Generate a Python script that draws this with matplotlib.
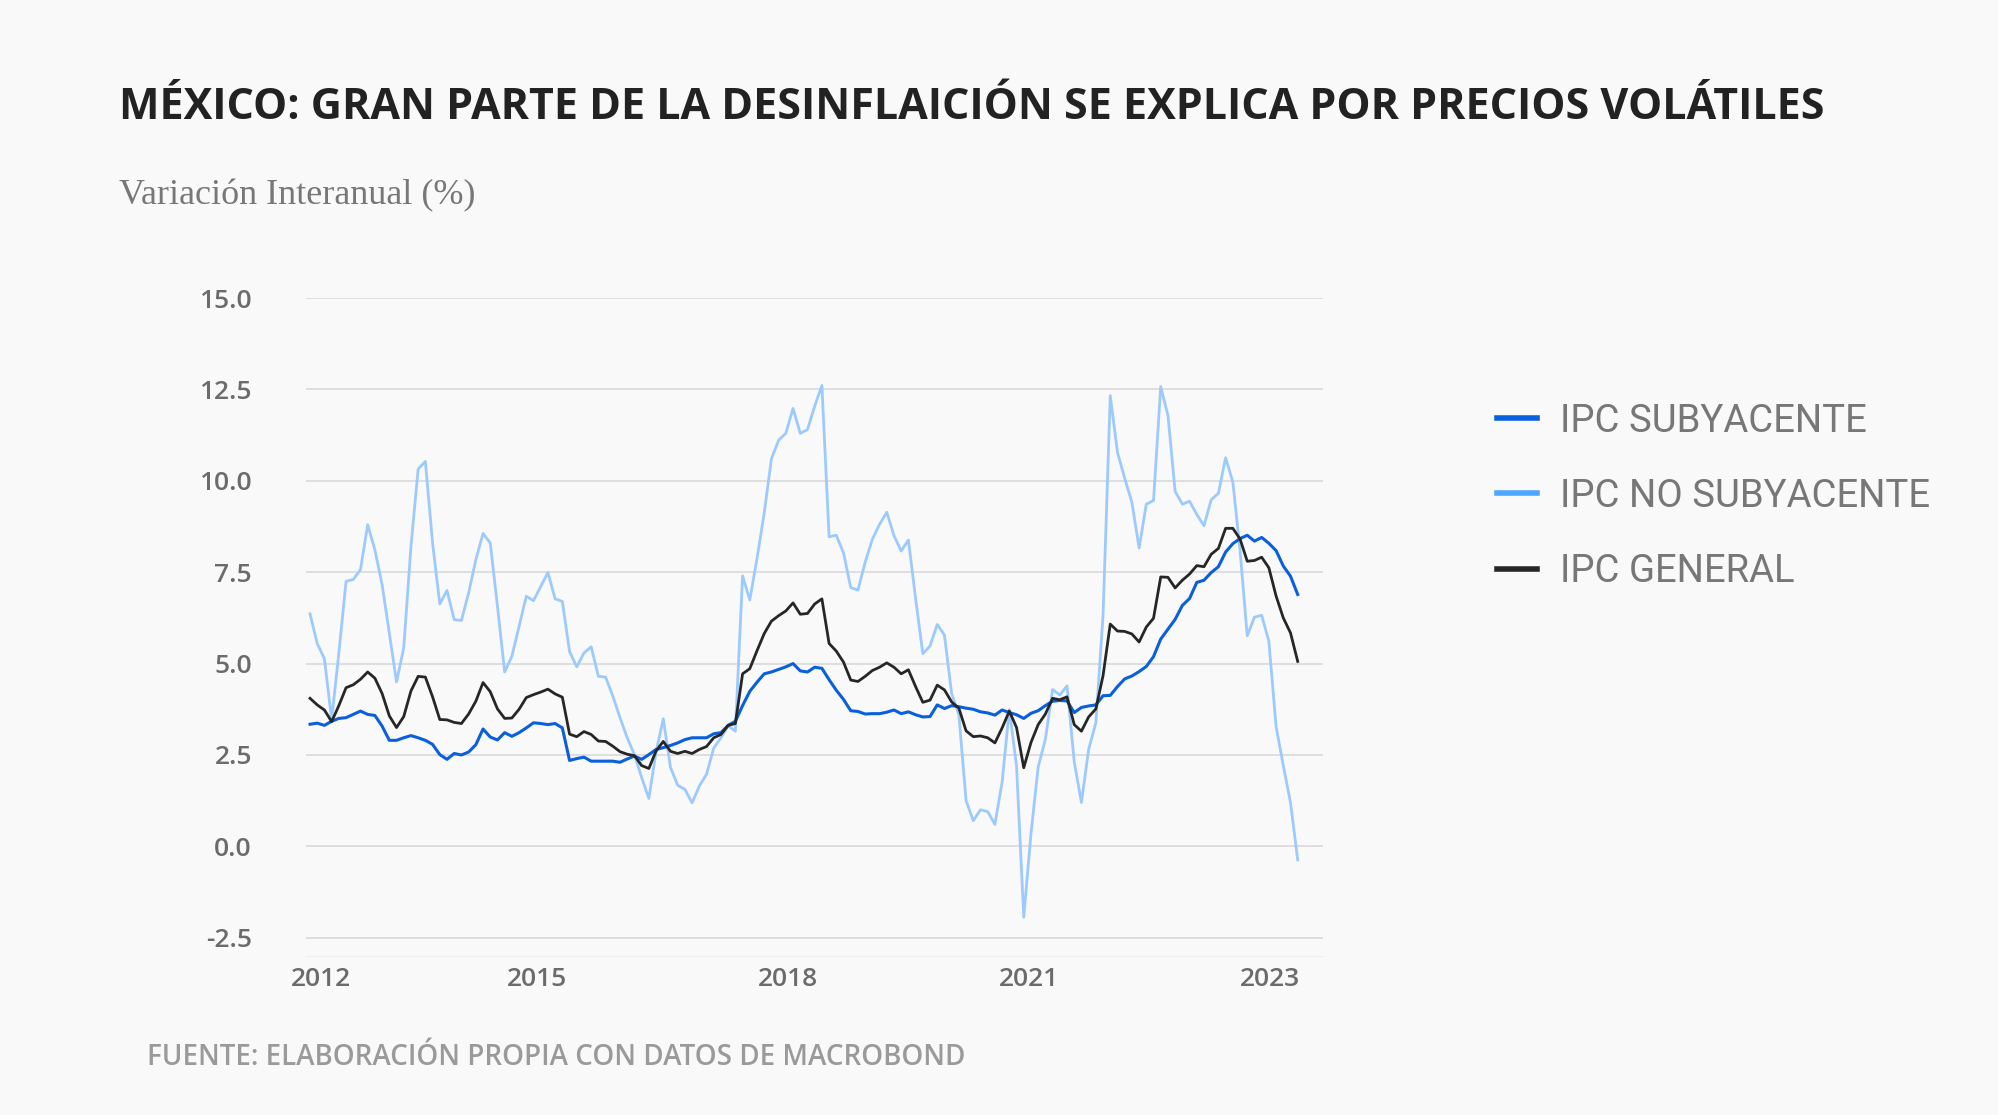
import numpy as np
import matplotlib
matplotlib.use("Agg")
import matplotlib.pyplot as plt
from matplotlib.lines import Line2D

# --- Datos mensuales, ene-2012 a jun-2023 (variación interanual, %) ---
ipc_general = [
    4.05, 3.87, 3.73, 3.41, 3.85, 4.34, 4.42, 4.57, 4.77, 4.60, 4.18, 3.57,  # 2012
    3.25, 3.55, 4.25, 4.65, 4.63, 4.09, 3.47, 3.46, 3.39, 3.36, 3.62, 3.97,  # 2013
    4.48, 4.23, 3.76, 3.50, 3.51, 3.75, 4.07, 4.15, 4.22, 4.30, 4.17, 4.08,  # 2014
    3.07, 3.00, 3.14, 3.06, 2.88, 2.87, 2.74, 2.59, 2.52, 2.48, 2.21, 2.13,  # 2015
    2.61, 2.87, 2.60, 2.54, 2.60, 2.54, 2.65, 2.73, 2.97, 3.06, 3.31, 3.36,  # 2016
    4.72, 4.86, 5.35, 5.82, 6.16, 6.31, 6.44, 6.66, 6.35, 6.37, 6.63, 6.77,  # 2017
    5.55, 5.34, 5.04, 4.55, 4.51, 4.65, 4.81, 4.90, 5.02, 4.90, 4.72, 4.83,  # 2018
    4.37, 3.94, 4.00, 4.41, 4.28, 3.95, 3.78, 3.16, 3.00, 3.02, 2.97, 2.83,  # 2019
    3.24, 3.70, 3.25, 2.15, 2.84, 3.33, 3.62, 4.05, 4.01, 4.09, 3.33, 3.15,  # 2020
    3.54, 3.76, 4.67, 6.08, 5.89, 5.88, 5.81, 5.59, 6.00, 6.24, 7.37, 7.36,  # 2021
    7.07, 7.28, 7.45, 7.68, 7.65, 7.99, 8.15, 8.70, 8.70, 8.41, 7.80, 7.82,  # 2022
    7.91, 7.62, 6.85, 6.25, 5.84, 5.06,                                      # 2023
]

ipc_subyacente = [
    3.34, 3.37, 3.31, 3.42, 3.50, 3.52, 3.61, 3.70, 3.61, 3.58, 3.29, 2.90,
    2.90, 2.97, 3.03, 2.97, 2.90, 2.79, 2.51, 2.38, 2.54, 2.50, 2.58, 2.78,
    3.21, 2.99, 2.91, 3.11, 3.01, 3.11, 3.24, 3.38, 3.36, 3.33, 3.36, 3.24,
    2.35, 2.40, 2.44, 2.33, 2.33, 2.33, 2.33, 2.30, 2.39, 2.47, 2.38, 2.51,
    2.65, 2.70, 2.76, 2.83, 2.92, 2.97, 2.97, 2.97, 3.08, 3.11, 3.31, 3.42,
    3.85, 4.24, 4.49, 4.72, 4.77, 4.84, 4.91, 5.00, 4.80, 4.77, 4.90, 4.87,
    4.56, 4.27, 4.02, 3.71, 3.69, 3.62, 3.63, 3.63, 3.67, 3.73, 3.63, 3.68,
    3.60, 3.54, 3.55, 3.87, 3.77, 3.85, 3.82, 3.78, 3.75, 3.68, 3.65, 3.59,
    3.73, 3.66, 3.60, 3.50, 3.64, 3.71, 3.85, 3.97, 3.99, 3.98, 3.66, 3.80,
    3.84, 3.87, 4.12, 4.13, 4.37, 4.58, 4.66, 4.78, 4.92, 5.19, 5.67, 5.94,
    6.21, 6.59, 6.78, 7.22, 7.28, 7.49, 7.65, 8.05, 8.28, 8.42, 8.51, 8.35,
    8.45, 8.29, 8.09, 7.67, 7.39, 6.89,
]

ipc_no_subyacente = [
    6.36, 5.55, 5.13, 3.47, 5.29, 7.25, 7.30, 7.57, 8.80, 8.11, 7.16, 5.84,
    4.50, 5.43, 8.20, 10.32, 10.53, 8.30, 6.63, 7.00, 6.20, 6.18, 6.93, 7.84,
    8.56, 8.30, 6.57, 4.77, 5.20, 6.02, 6.84, 6.72, 7.11, 7.49, 6.77, 6.70,
    5.33, 4.91, 5.29, 5.46, 4.65, 4.63, 4.11, 3.52, 2.97, 2.51, 1.88, 1.31,
    2.58, 3.49, 2.16, 1.67, 1.56, 1.19, 1.65, 1.97, 2.69, 2.97, 3.30, 3.15,
    7.40, 6.74, 7.87, 9.12, 10.60, 11.11, 11.30, 11.98, 11.30, 11.40, 12.04, 12.61,
    8.47, 8.51, 8.03, 7.08, 7.01, 7.77, 8.40, 8.81, 9.14, 8.50, 8.08, 8.38,
    6.78, 5.27, 5.48, 6.07, 5.78, 4.18, 3.60, 1.25, 0.70, 1.00, 0.95, 0.60,
    1.76, 3.74, 2.20, -1.94, 0.34, 2.17, 2.93, 4.29, 4.14, 4.39, 2.32, 1.20,
    2.65, 3.38, 6.32, 12.33, 10.78, 10.07, 9.41, 8.16, 9.36, 9.46, 12.58, 11.79,
    9.71, 9.36, 9.44, 9.08, 8.77, 9.48, 9.66, 10.63, 9.97, 8.10, 5.76, 6.27,
    6.32, 5.61, 3.28, 2.21, 1.20, -0.37,
]

year_labels = ["2012", "2015", "2018", "2021", "2023"]
year_ticks = [1.5, 31.5, 66.3, 99.7, 133.1]   # posicion (indice mensual) de cada etiqueta

y_ticks = [-2.5, 0.0, 2.5, 5.0, 7.5, 10.0, 12.5, 15.0]

months = np.arange(len(ipc_general))

# --- colores ---
bg = "#f9f9f9"
c_sub = "#0a5fdc"
c_nosub = "#9ccaff"
c_nosub_leg = "#4da6ff"
c_gen = "#262626"

fig = plt.figure(figsize=(19.99, 11.15), dpi=100, facecolor=bg)
ax = fig.add_axes([0.1531, 0.1426, 0.5087, 0.5901], facecolor=bg)

ax.plot(months, ipc_no_subyacente, color=c_nosub, lw=2.0, zorder=2)
ax.plot(months, ipc_subyacente, color=c_sub, lw=2.2, zorder=3)
ax.plot(months, ipc_general, color=c_gen, lw=2.0, zorder=4)

ax.set_xlim(-0.55, 140.5)
ax.set_ylim(-3.0, 15.0)
ax.set_yticks(y_ticks)
ax.set_yticklabels([f"{v:.1f}" for v in y_ticks])
ax.set_xticks(year_ticks)
ax.set_xticklabels(year_labels)

ax.grid(axis="y", color="#d6d6d6", lw=1.1)
ax.set_axisbelow(True)
ax.tick_params(length=0, colors="#6b6b6b", labelsize=19)
ax.tick_params(axis="y", pad=39)
ax.tick_params(axis="x", pad=8)
for lab in ax.get_xticklabels() + ax.get_yticklabels():
    lab.set_fontfamily(["Open Sans", "DejaVu Sans"])
    lab.set_fontweight("semibold")
for s in ["top", "right", "left"]:
    ax.spines[s].set_visible(False)
ax.spines["bottom"].set_color("#efefef")

# --- titulo, subtitulo y fuente ---
fig.text(0.0595, 0.893, "MÉXICO: GRAN PARTE DE LA DESINFLAICIÓN SE EXPLICA POR PRECIOS VOLÁTILES",
         fontsize=31, fontweight="bold", color="#222222",
         family=["Open Sans", "DejaVu Sans"], va="baseline")
fig.text(0.0595, 0.817, "Variación Interanual (%)", fontsize=26, color="#777777",
         family=["Liberation Serif", "DejaVu Serif"], va="baseline")
fig.text(0.0735, 0.045, "FUENTE: ELABORACIÓN PROPIA CON DATOS DE MACROBOND",
         fontsize=20, fontweight="semibold", color="#9a9a9a",
         family=["Open Sans", "DejaVu Sans"], va="baseline")

# --- leyenda ---
handles = [
    Line2D([], [], color=c_sub, lw=4),
    Line2D([], [], color=c_nosub_leg, lw=4),
    Line2D([], [], color=c_gen, lw=4),
]
leg = fig.legend(handles, ["IPC SUBYACENTE", "IPC NO SUBYACENTE", "IPC GENERAL"],
                 loc="upper left", bbox_to_anchor=(0.749, 0.639), frameon=False,
                 handlelength=1.05, handletextpad=0.6, labelspacing=1.0,
                 borderpad=0, borderaxespad=0,
                 prop={"family": ["Roboto", "DejaVu Sans"], "weight": "normal", "size": 27.5})
for t in leg.get_texts():
    t.set_color("#777777")

fig.savefig("out.png", dpi=100, facecolor=bg)
